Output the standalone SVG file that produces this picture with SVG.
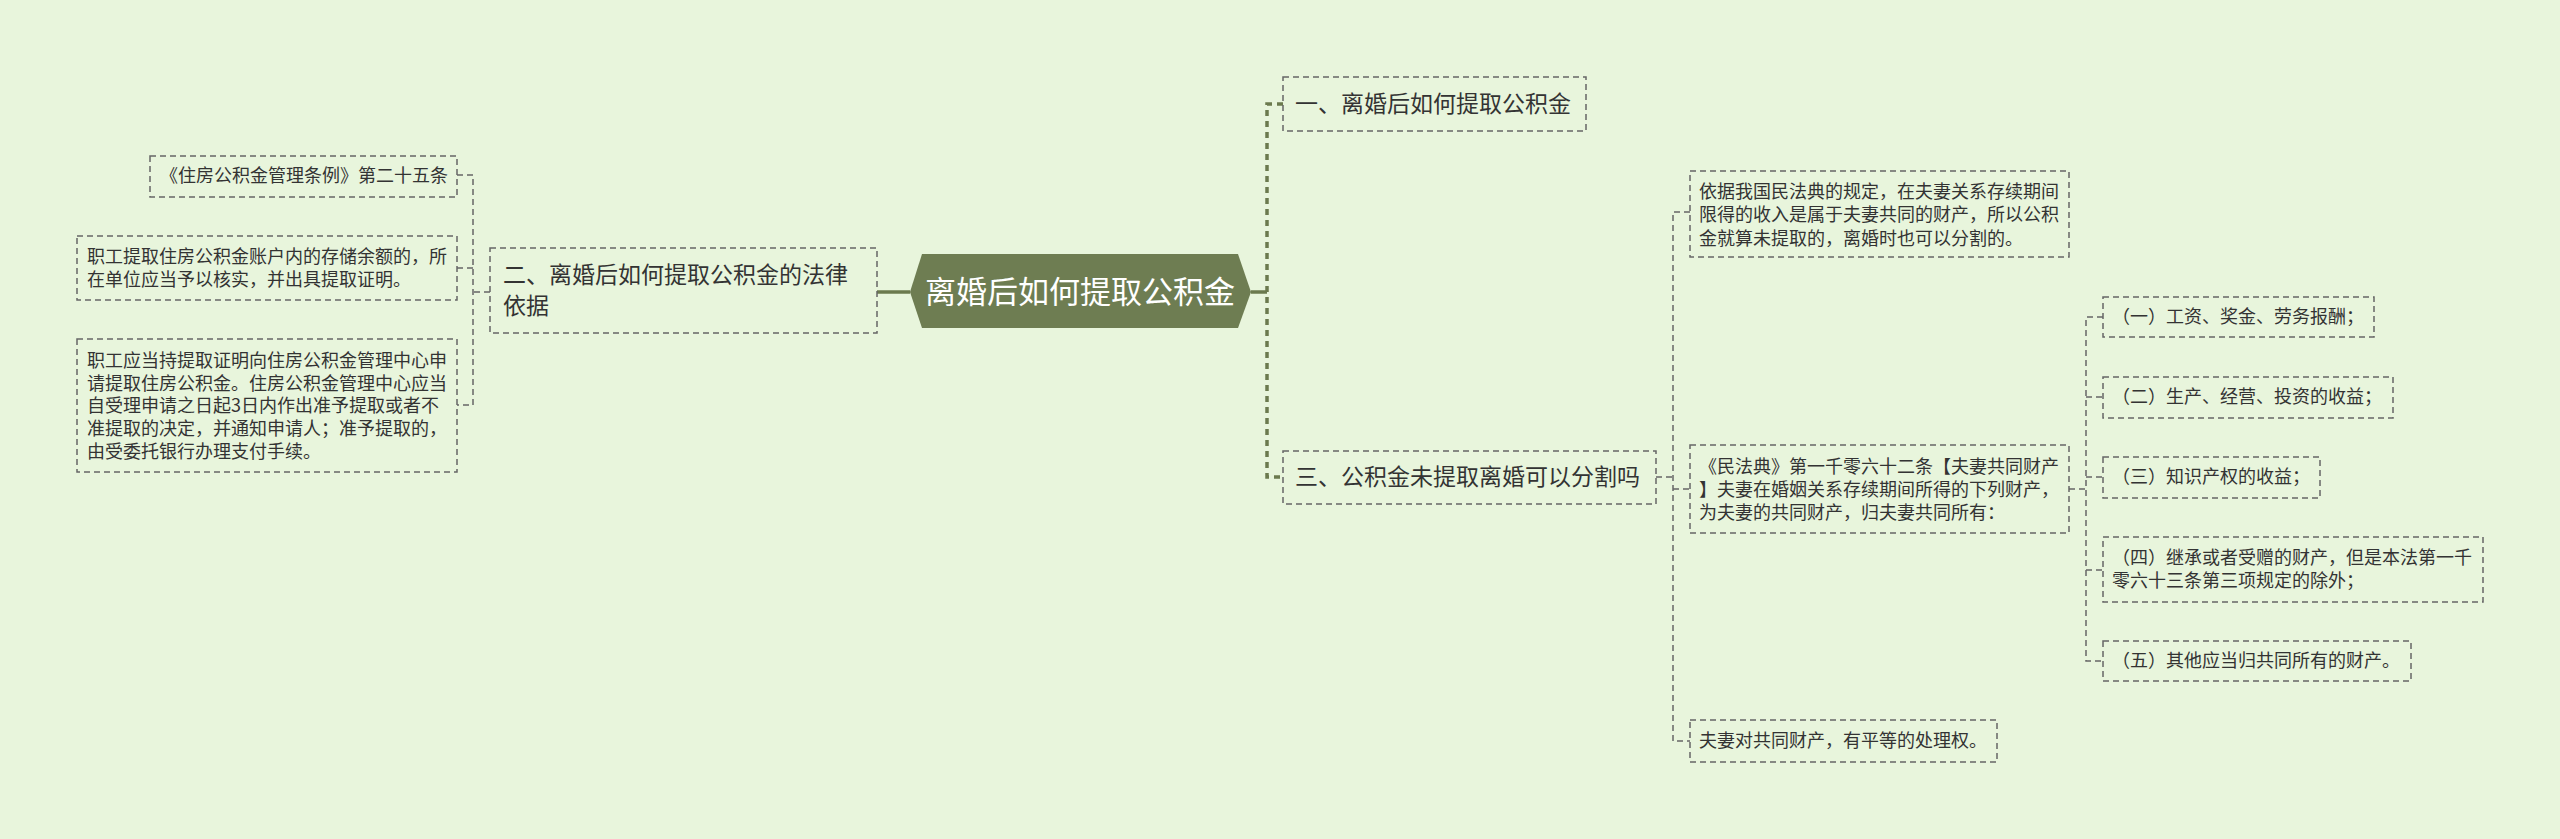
<svg xmlns="http://www.w3.org/2000/svg" width="2560" height="839" viewBox="0 0 2560 839">
<style>
.box{fill:none;stroke:#666;stroke-width:1.5;stroke-dasharray:6 4}
.t{font-family:"Noto Sans CJK SC","Liberation Sans",sans-serif;fill:#333}
.s18{font-size:18px}
.s23{font-size:23px}
.root{font-family:"Noto Sans CJK SC","Liberation Sans",sans-serif;font-size:31px;fill:#fff}
.c{fill:none;stroke:#666;stroke-width:1.5;stroke-dasharray:6 4}
.cm{fill:none;stroke:#6b7a4e;stroke-width:3.5;stroke-dasharray:6 5}
.cs{fill:none;stroke:#6b7a4e;stroke-width:3.5}
</style>
<rect width="2560" height="839" fill="#e8f5dc"/>
<g id="connectors">
<path class="cs" d="M877 292H910"/>
<path class="cs" d="M1251 292H1267"/>
<path class="cm" d="M1283 104H1267V477H1283"/>
<path class="c" d="M490 292H473"/>
<path class="c" d="M457 175H473V405H457M457 268H473"/>
<path class="c" d="M1656 477H1673"/>
<path class="c" d="M1690 212H1673V741H1690M1673 489H1690"/>
<path class="c" d="M2069 489H2086"/>
<path class="c" d="M2103 317H2086V661H2103M2086 397H2103M2086 477H2103M2086 570H2103"/>
</g>
<g id="root">
<polygon points="910,292 922,254 1238,254 1251,292 1238,328 922,328" fill="#6e7d52"/>
<text class="root" x="1080" y="303" text-anchor="middle">离婚后如何提取公积金</text>
</g>
<g id="n1">
<rect class="box" x="1283" y="77" width="303" height="54"/>
<text class="t s23" x="1295" y="112">一、离婚后如何提取公积金</text>
</g>
<g id="n2">
<rect class="box" x="490" y="248" width="387" height="85"/>
<text class="t s23" x="503" y="283">二、离婚后如何提取公积金的法律</text>
<text class="t s23" x="503" y="314">依据</text>
</g>
<g id="n3">
<rect class="box" x="1283" y="451" width="373" height="53"/>
<text class="t s23" x="1295" y="485">三、公积金未提取离婚可以分割吗</text>
</g>
<g id="l1">
<rect class="box" x="150" y="156" width="307" height="41"/>
<text class="t s18" x="160" y="182">《住房公积金管理条例》第二十五条</text>
</g>
<g id="l2">
<rect class="box" x="77" y="236" width="380" height="64"/>
<text class="t s18" x="87" y="263">职工提取住房公积金账户内的存储余额的，所</text>
<text class="t s18" x="87" y="286">在单位应当予以核实，并出具提取证明。</text>
</g>
<g id="l3">
<rect class="box" x="77" y="339" width="380" height="133"/>
<text class="t s18" x="87" y="367">职工应当持提取证明向住房公积金管理中心申</text>
<text class="t s18" x="87" y="390">请提取住房公积金。住房公积金管理中心应当</text>
<text class="t s18" x="87" y="412">自受理申请之日起3日内作出准予提取或者不</text>
<text class="t s18" x="87" y="435">准提取的决定，并通知申请人；准予提取的，</text>
<text class="t s18" x="87" y="458">由受委托银行办理支付手续。</text>
</g>
<g id="r1">
<rect class="box" x="1690" y="171" width="379" height="86"/>
<text class="t s18" x="1699" y="198">依据我国民法典的规定，在夫妻关系存续期间</text>
<text class="t s18" x="1699" y="221">限得的收入是属于夫妻共同的财产，所以公积</text>
<text class="t s18" x="1699" y="245">金就算未提取的，离婚时也可以分割的。</text>
</g>
<g id="r2">
<rect class="box" x="1690" y="445" width="379" height="88"/>
<text class="t s18" x="1699" y="473">《民法典》第一千零六十二条【夫妻共同财产</text>
<text class="t s18" x="1699" y="496">】夫妻在婚姻关系存续期间所得的下列财产，</text>
<text class="t s18" x="1699" y="519">为夫妻的共同财产，归夫妻共同所有：</text>
</g>
<g id="r3">
<rect class="box" x="1690" y="720" width="307" height="42"/>
<text class="t s18" x="1699" y="747">夫妻对共同财产，有平等的处理权。</text>
</g>
<g id="c1">
<rect class="box" x="2103" y="297" width="271" height="40"/>
<text class="t s18" x="2112" y="323">（一）工资、奖金、劳务报酬；</text>
</g>
<g id="c2">
<rect class="box" x="2103" y="377" width="290" height="41"/>
<text class="t s18" x="2112" y="403">（二）生产、经营、投资的收益；</text>
</g>
<g id="c3">
<rect class="box" x="2103" y="457" width="217" height="41"/>
<text class="t s18" x="2112" y="483">（三）知识产权的收益；</text>
</g>
<g id="c4">
<rect class="box" x="2103" y="537" width="380" height="65"/>
<text class="t s18" x="2112" y="564">（四）继承或者受赠的财产，但是本法第一千</text>
<text class="t s18" x="2112" y="587">零六十三条第三项规定的除外；</text>
</g>
<g id="c5">
<rect class="box" x="2103" y="641" width="308" height="40"/>
<text class="t s18" x="2112" y="667">（五）其他应当归共同所有的财产。</text>
</g>
</svg>
